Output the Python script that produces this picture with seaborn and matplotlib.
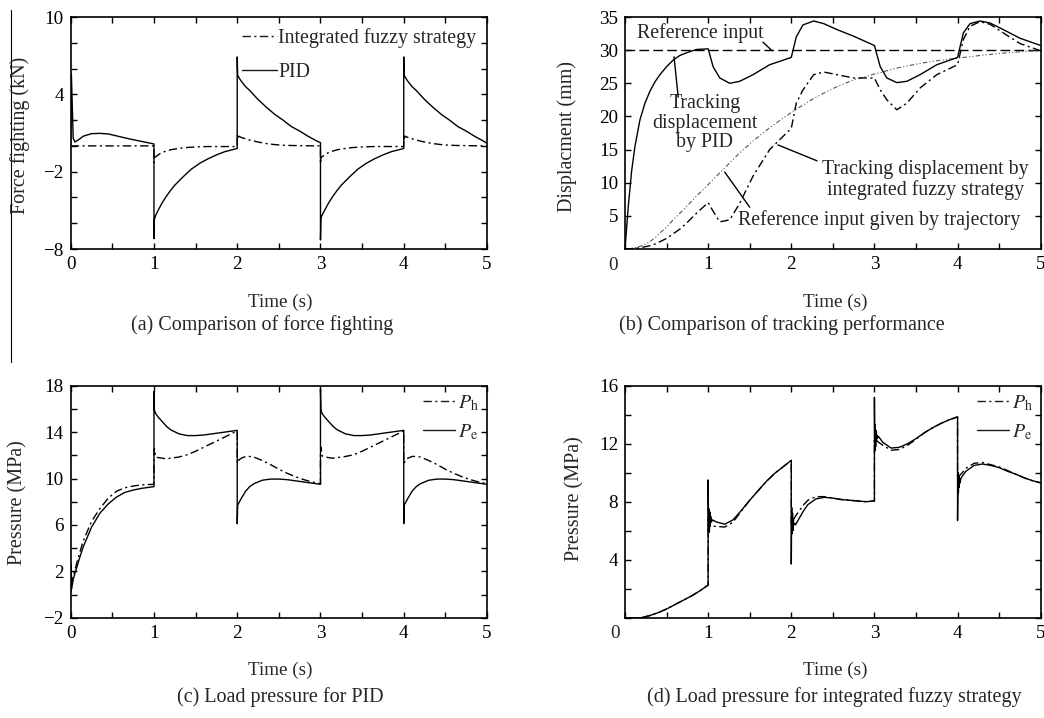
import matplotlib
matplotlib.use('Agg')
import matplotlib.pyplot as plt
from matplotlib.lines import Line2D
from matplotlib.ticker import MultipleLocator
import seaborn as sns

# ---------------- data ----------------
# (a) force fighting, kN
t_a = [0, 0.008, 0.03, 0.05, 0.1, 0.15, 0.25, 0.35, 0.45, 0.6, 0.7, 0.85, 1.0,
       1.0, 1.005, 1.02, 1.05, 1.1, 1.15, 1.2, 1.25, 1.35, 1.45, 1.55, 1.65, 1.75, 1.85, 2.0,
       2.0, 2.005, 2.02, 2.05, 2.1, 2.15, 2.25, 2.35, 2.45, 2.55, 2.65, 2.75, 2.85, 2.95, 3.0,
       3.0, 3.005, 3.02, 3.05, 3.1, 3.15, 3.2, 3.25, 3.35, 3.45, 3.55, 3.65, 3.75, 3.85, 4.0,
       4.0, 4.005, 4.02, 4.05, 4.1, 4.15, 4.25, 4.35, 4.45, 4.55, 4.65, 4.75, 4.85, 4.95, 5.0]
force_pid = [0, 5.6, 0.6, 0.3, 0.5, 0.75, 0.95, 0.97, 0.93, 0.7, 0.55, 0.35, 0.15,
             -7.2, -5.7, -5.4, -5.0, -4.4, -3.9, -3.45, -3.05, -2.4, -1.8, -1.35, -1.0, -0.7, -0.45, -0.2,
             6.9, 5.5, 5.3, 5.0, 4.6, 4.3, 3.6, 3.0, 2.45, 2.0, 1.5, 1.15, 0.75, 0.4, 0.25,
             -7.3, -5.6, -5.35, -5.0, -4.4, -3.9, -3.45, -3.05, -2.4, -1.8, -1.35, -1.0, -0.7, -0.45, -0.2,
             6.9, 5.5, 5.3, 5.0, 4.6, 4.3, 3.6, 3.0, 2.45, 2.0, 1.5, 1.15, 0.75, 0.4, 0.2]
force_fuzzy = [0, 0, 0, 0, 0, 0, 0, 0, 0, 0, 0, 0, 0,
               -1.3, -0.9, -0.85, -0.7, -0.5, -0.4, -0.3, -0.25, -0.15, -0.1, -0.07, -0.05, -0.05, -0.05, -0.05,
               0.9, 0.55, 0.75, 0.65, 0.55, 0.45, 0.3, 0.18, 0.1, 0.05, 0.03, 0.02, 0.01, 0, 0,
               -1.4, -0.9, -0.85, -0.7, -0.5, -0.4, -0.3, -0.25, -0.15, -0.1, -0.07, -0.05, -0.05, -0.05, -0.05,
               0.9, 0.55, 0.75, 0.65, 0.55, 0.45, 0.3, 0.18, 0.1, 0.05, 0.03, 0.02, 0.01, 0, 0]

# (b) displacement, mm
t_b = [0, 0.04, 0.08, 0.12, 0.18, 0.24, 0.3, 0.36, 0.42, 0.5, 0.58, 0.66, 0.74, 0.86, 1.0,
       1.06, 1.14, 1.26, 1.38, 1.54, 1.74, 2.0,
       2.06, 2.14, 2.27, 2.39, 2.55, 2.75, 3.0,
       3.07, 3.15, 3.27, 3.39, 3.55, 3.75, 4.0,
       4.07, 4.15, 4.27, 4.39, 4.55, 4.75, 5.0]
disp_pid = [0, 6.5, 11.8, 15.5, 19.5, 22.0, 23.8, 25.2, 26.3, 27.5, 28.5, 29.2, 29.6, 30.1, 30.2,
            27.5, 25.8, 25.0, 25.3, 26.3, 27.8, 28.9,
            32.0, 33.8, 34.4, 34.0, 33.1, 32.1, 30.7,
            27.5, 25.8, 25.1, 25.3, 26.3, 27.8, 28.9,
            32.6, 34.0, 34.4, 34.1, 33.1, 31.8, 30.7]
disp_fuzzy = [0, 0.02, 0.05, 0.1, 0.2, 0.33, 0.5, 0.75, 1.1, 1.6, 2.3, 3.0, 3.9, 5.4, 7.0,
              5.7, 4.1, 4.4, 6.9, 11.0, 15.0, 18.2,
              22.0, 24.0, 26.3, 26.7, 26.3, 25.8, 25.8,
              24.0, 22.5, 21.0, 22.0, 24.3, 26.3, 27.8,
              31.6, 33.6, 34.3, 33.9, 32.6, 31.0, 29.9]
disp_traj = [0, 0.05, 0.1, 0.2, 0.4, 0.7, 1.1, 1.7, 2.4, 3.3, 4.4, 5.4, 6.4, 8.0, 9.7,
             10.5, 11.5, 13.0, 14.5, 16.3, 18.3, 20.6,
             21.1, 21.7, 22.7, 23.5, 24.5, 25.5, 26.4,
             26.6, 26.9, 27.3, 27.6, 28.0, 28.4, 28.8,
             28.9, 29.0, 29.2, 29.35, 29.55, 29.75, 29.95]
ref_level = 30

# (c) load pressure for PID, MPa
t_c = [0, 0.005, 0.012, 0.03, 0.05, 0.08, 0.1, 0.15, 0.25, 0.35, 0.45, 0.55, 0.65, 0.75, 0.85, 1.0,
       1.0, 1.005, 1.02, 1.05, 1.1, 1.15, 1.2, 1.3, 1.4, 1.5, 1.6, 1.7, 1.8, 1.9, 2.0,
       2.0, 2.005, 2.02, 2.05, 2.1, 2.15, 2.2, 2.3, 2.4, 2.5, 2.6, 2.7, 2.8, 2.9, 3.0,
       3.0, 3.005, 3.02, 3.05, 3.1, 3.15, 3.2, 3.3, 3.4, 3.5, 3.6, 3.7, 3.8, 3.9, 4.0,
       4.0, 4.005, 4.02, 4.05, 4.1, 4.15, 4.2, 4.3, 4.4, 4.5, 4.6, 4.7, 4.8, 4.9, 5.0]
pid_pe = [0.2, 2.6, 0.5, 1.3, 1.8, 2.5, 3.0, 4.1, 5.8, 7.0, 7.8, 8.4, 8.8, 9.0, 9.15, 9.3,
          17.5, 15.9, 15.6, 15.3, 14.9, 14.5, 14.2, 13.85, 13.7, 13.7, 13.75, 13.85, 13.95, 14.05, 14.15,
          6.1, 7.7, 7.9, 8.3, 8.9, 9.3, 9.55, 9.85, 9.95, 9.95, 9.9, 9.8, 9.7, 9.6, 9.5,
          17.7, 15.9, 15.6, 15.3, 14.9, 14.5, 14.2, 13.85, 13.7, 13.7, 13.75, 13.85, 13.95, 14.05, 14.15,
          6.1, 7.7, 7.9, 8.3, 8.9, 9.3, 9.55, 9.85, 9.95, 9.95, 9.9, 9.8, 9.7, 9.6, 9.5]
pid_ph = [0.2, 2.0, 0.8, 1.6, 2.1, 2.9, 3.4, 4.6, 6.3, 7.4, 8.3, 8.9, 9.2, 9.35, 9.45, 9.5,
          11.9, 12.6, 11.85, 11.8, 11.75, 11.7, 11.75, 11.85, 12.05, 12.35, 12.7, 13.05, 13.4, 13.75, 14.1,
          11.5, 11.3, 11.6, 11.75, 11.9, 11.9, 11.85, 11.55, 11.2, 10.8, 10.45, 10.15, 9.9, 9.7, 9.55,
          12.0, 12.7, 11.95, 11.85, 11.8, 11.75, 11.8, 11.9, 12.05, 12.35, 12.7, 13.05, 13.4, 13.75, 14.1,
          11.5, 11.3, 11.6, 11.75, 11.9, 11.9, 11.85, 11.55, 11.2, 10.8, 10.45, 10.15, 9.9, 9.7, 9.55]

# (d) load pressure for integrated fuzzy strategy, MPa
t_d = [0, 0.2, 0.3, 0.4, 0.5, 0.6, 0.7, 0.8, 0.9, 1.0,
       1.0, 1.005, 1.01, 1.015, 1.02, 1.025, 1.03, 1.04, 1.05, 1.1, 1.2, 1.3, 1.4, 1.5, 1.6, 1.7, 1.8, 1.9, 2.0,
       2.0, 2.005, 2.01, 2.015, 2.02, 2.025, 2.03, 2.04, 2.05, 2.1, 2.15, 2.2, 2.3, 2.4, 2.5, 2.6, 2.7, 2.8, 2.9, 3.0,
       3.0, 3.005, 3.01, 3.015, 3.02, 3.025, 3.03, 3.04, 3.05, 3.1, 3.2, 3.3, 3.4, 3.5, 3.6, 3.7, 3.8, 3.9, 4.0,
       4.0, 4.005, 4.01, 4.015, 4.02, 4.025, 4.03, 4.04, 4.05, 4.1, 4.2, 4.3, 4.4, 4.5, 4.6, 4.7, 4.8, 4.9, 5.0]
fz_pe = [0, 0, 0.15, 0.35, 0.6, 0.9, 1.2, 1.5, 1.85, 2.25,
         9.5, 6.0, 7.5, 5.9, 7.3, 6.3, 7.0, 6.6, 6.75, 6.6, 6.45, 6.75, 7.4, 8.1, 8.75, 9.4, 9.95, 10.4, 10.85,
         3.7, 7.6, 5.8, 7.2, 6.0, 6.8, 6.4, 6.5, 6.4, 6.9, 7.4, 7.8, 8.2, 8.3, 8.25, 8.15, 8.1, 8.05, 8.0, 8.05,
         15.2, 11.5, 13.3, 11.8, 12.9, 12.2, 12.6, 12.4, 12.5, 12.1, 11.7, 11.75, 12.0, 12.35, 12.75, 13.1, 13.4, 13.65, 13.85,
         6.7, 10.0, 8.6, 9.8, 9.0, 9.6, 9.3, 9.6, 9.7, 10.1, 10.5, 10.6, 10.5, 10.35, 10.1, 9.9, 9.65, 9.45, 9.3]
fz_ph = [0, 0, 0.15, 0.35, 0.6, 0.9, 1.2, 1.5, 1.85, 2.25,
         6.8, 6.6, 6.5, 6.4, 6.4, 6.35, 6.35, 6.3, 6.3, 6.3, 6.25, 6.6, 7.35, 8.1, 8.75, 9.4, 9.95, 10.4, 10.85,
         6.3, 6.4, 6.5, 6.6, 6.7, 6.75, 6.8, 6.9, 7.0, 7.4, 7.8, 8.1, 8.35, 8.35, 8.25, 8.15, 8.1, 8.05, 8.0, 8.05,
         12.3, 12.3, 12.3, 12.25, 12.25, 12.2, 12.2, 12.15, 12.1, 11.9, 11.55, 11.6, 11.9, 12.3, 12.75, 13.1, 13.4, 13.65, 13.85,
         9.6, 9.6, 9.65, 9.7, 9.75, 9.8, 9.85, 9.9, 9.95, 10.3, 10.65, 10.7, 10.55, 10.4, 10.15, 9.9, 9.65, 9.45, 9.3]

# ---------------- style ----------------
sns.set_theme(style='ticks')
plt.rcParams['font.family'] = ['Liberation Serif', 'DejaVu Serif']
plt.rcParams['mathtext.fontset'] = 'stix'
plt.rcParams['font.size'] = 14

W, H = 1044, 718
TICK_FS = 13.8
LABEL_FS = 14.5
NOTE_FS = 14.3
DASHDOT = (0, (6, 2.5, 1.5, 2.5))
DASHED = (0, (7, 3))
DASHDOTDOT = (0, (4, 2, 1, 2, 1, 2))

fig = plt.figure(figsize=(W / 100, H / 100), dpi=100)


def place(l, t, r, b):
    return fig.add_axes([l / W, 1 - b / H, (r - l) / W, (b - t) / H])


def style(ax):
    ax.set_xlim(0, 5)
    ax.xaxis.set_major_locator(MultipleLocator(1))
    ax.xaxis.set_minor_locator(MultipleLocator(0.5))
    ax.tick_params(which='both', direction='in', top=True, right=True,
                   length=4, width=1, colors='black', labelsize=TICK_FS, pad=5)
    for sp in ax.spines.values():
        sp.set_linewidth(1.2)
        sp.set_color('black')
    ax.set_xlabel('')
    ax.set_ylabel('')


def line(ax, x, y, ls='-', color='black', lw=1.0):
    sns.lineplot(x=x, y=y, ax=ax, estimator=None, sort=False,
                 color=color, lw=lw, linestyle=ls)


def ftext(x, y, s, fs=LABEL_FS, **kw):
    fig.text(x / W, 1 - y / H, s, ha='center', va='center', fontsize=fs, **kw)


def proxies():
    return [Line2D([], [], color='k', lw=1, ls=DASHDOT), Line2D([], [], color='k', lw=1)]


# ---------------- (a) ----------------
ax_a = place(70.7, 17, 487, 249)
line(ax_a, t_a, force_fuzzy, DASHDOT)
line(ax_a, t_a, force_pid)
style(ax_a)
ax_a.set_ylim(-8, 10)
ax_a.set_yticks([-8, -2, 4, 10])
ax_a.yaxis.set_minor_locator(MultipleLocator(2))
ax_a.legend(handles=proxies(), labels=['Integrated fuzzy strategy', 'PID'],
            loc='upper right', frameon=False, fontsize=NOTE_FS, handlelength=1.75,
            handletextpad=0.05, borderaxespad=0.1, borderpad=0.45, labelspacing=0.75)

# ---------------- (b) ----------------
ax_b = place(625, 17, 1040.7, 249)
ax_b.axhline(ref_level, color='black', lw=1, ls=DASHED)
line(ax_b, t_b, disp_traj, DASHDOTDOT, color='#555555', lw=0.8)
line(ax_b, t_b, disp_fuzzy, DASHDOT)
line(ax_b, t_b, disp_pid)
style(ax_b)
ax_b.set_ylim(0, 35)
ax_b.set_yticks([5, 10, 15, 20, 25, 30, 35])
ax_b.set_xticks([0, 1, 2, 3, 4, 5], ['', '1', '2', '3', '4', '5'])
ax_b.text(-0.029, -0.069, '0', transform=ax_b.transAxes, ha='center', va='center', fontsize=TICK_FS)

notes_b = [
    ('Reference input', (0.144, 32.6), 'left', (1.66, 31.2), (1.77, 29.9)),
    ('Tracking\ndisplacement\nby PID', (0.96, 19.0), 'center', (0.59, 29.0), (0.64, 22.9)),
    ('Tracking displacement by\nintegrated fuzzy strategy', (2.37, 10.4), 'left', (1.84, 15.7), (2.31, 13.3)),
    ('Reference input given by trajectory', (1.36, 4.4), 'left', (1.20, 11.6), (1.50, 6.3)),
]
for txt, pos, ha, p0, p1 in notes_b:
    ax_b.text(pos[0], pos[1], txt, ha=ha, va='center', fontsize=NOTE_FS,
              multialignment='center', linespacing=1.05)
    ax_b.annotate('', xy=p0, xytext=p1,
                  arrowprops=dict(arrowstyle='-', color='black', lw=1, shrinkA=0, shrinkB=0))

# ---------------- (c) ----------------
ax_c = place(70.7, 385.7, 487, 617.7)
line(ax_c, t_c, pid_ph, DASHDOT)
line(ax_c, t_c, pid_pe)
style(ax_c)
ax_c.set_ylim(-2, 18)
ax_c.set_yticks([-2, 2, 6, 10, 14, 18])
ax_c.yaxis.set_minor_locator(MultipleLocator(2))

# ---------------- (d) ----------------
ax_d = place(625, 385.7, 1040.7, 617.7)
line(ax_d, t_d, fz_ph, DASHDOT)
line(ax_d, t_d, fz_pe)
style(ax_d)
ax_d.set_ylim(0, 16)
ax_d.set_yticks([4, 8, 12, 16])
ax_d.yaxis.set_minor_locator(MultipleLocator(2))
ax_d.set_xticks([0, 1, 2, 3, 4, 5], ['', '1', '2', '3', '4', '5'])
ax_d.text(-0.024, -0.069, '0', transform=ax_d.transAxes, ha='center', va='center', fontsize=TICK_FS)

for ax in (ax_c, ax_d):
    ax.legend(handles=proxies(), labels=[r'$P_\mathrm{h}$', r'$P_\mathrm{e}$'],
              loc='upper right', frameon=False, fontsize=NOTE_FS, handlelength=1.6,
              handletextpad=0.15, borderaxespad=0.1, borderpad=0.3, labelspacing=0.45)

# ---------------- labels and captions ----------------
ftext(280, 302, 'Time (s)', fs=13.8)
ftext(835, 302, 'Time (s)', fs=13.8)
ftext(280, 670, 'Time (s)', fs=13.8)
ftext(835, 670, 'Time (s)', fs=13.8)
ftext(20, 135, 'Force fighting (kN)', rotation=90)
ftext(567, 137, 'Displacment (mm)', rotation=90)
ftext(18, 503, 'Pressure (MPa)', rotation=90)
ftext(575, 499, 'Pressure (MPa)', rotation=90)
ftext(262, 325, '(a) Comparison of force fighting')
ftext(782, 325, '(b) Comparison of tracking performance')
ftext(280, 697, '(c) Load pressure for PID')
ftext(834, 697, '(d) Load pressure for integrated fuzzy strategy')

# thin vertical rule at left of the scan
fig.add_artist(Line2D([11 / W, 11 / W], [1 - 10 / H, 1 - 362 / H], color='black', lw=0.8))

fig.savefig('out.png', dpi=100, facecolor='white')
